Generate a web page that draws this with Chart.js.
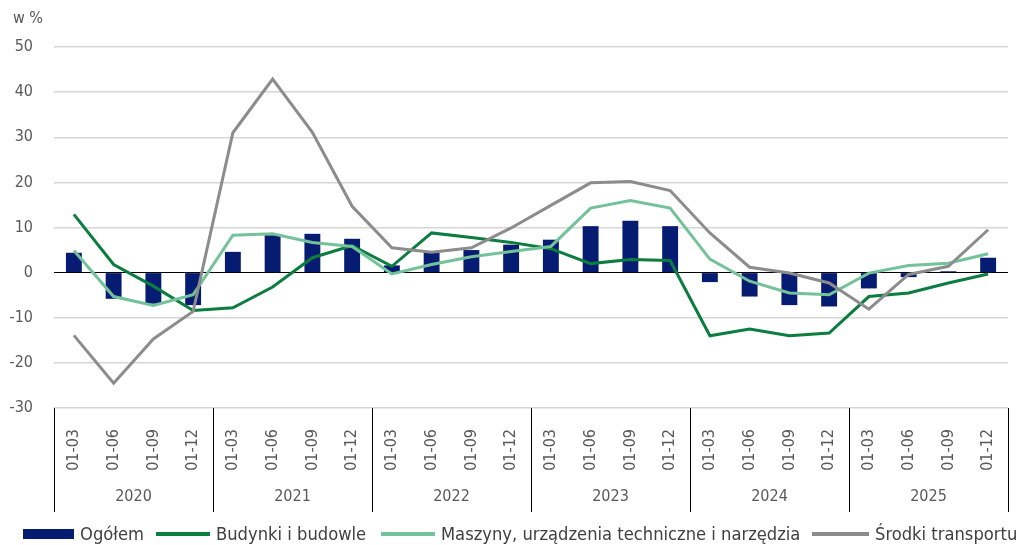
<!DOCTYPE html>
<html>
<head>
<meta charset="utf-8">
<script src="https://cdn.jsdelivr.net/npm/chart.js@4.4.1/dist/chart.umd.min.js"></script>
<style>
  body { margin: 0; background: #fff; }
  #wrap { position: relative; width: 1021px; height: 545px; }
  #unit { position: absolute; left: 13px; top: 8px; font: 16px 'DejaVu Sans Condensed', 'DejaVu Sans', sans-serif; color: #595959; }
  .leg { position: absolute; top: 523px; display: flex; align-items: center; font: 18.2px 'DejaVu Sans Condensed', 'DejaVu Sans', sans-serif; color: #404040; white-space: nowrap; line-height: 21px; }
  .leg i { display: inline-block; margin-right: 6px; }
</style>
</head>
<body>
<div id="wrap">
  <canvas id="myChart" width="1021" height="545"></canvas>
  <div id="unit">w %</div>
  <div class="leg" style="left:23px"><i style="width:51px;height:10px;background:#061c72"></i>Ogółem</div>
  <div class="leg" style="left:156px"><i style="width:54px;height:4px;background:#0b7d3e"></i>Budynki i budowle</div>
  <div class="leg" style="left:381px"><i style="width:54px;height:4px;background:#74c29a"></i>Maszyny, urządzenia techniczne i narzędzia</div>
  <div class="leg" style="left:812px"><i style="width:57px;height:4px;background:#8c8c8c"></i>Środki transportu</div>
</div>
<script>
// quarters and years
const periods = [
  '01-03', '01-06', '01-09', '01-12',
  '01-03', '01-06', '01-09', '01-12',
  '01-03', '01-06', '01-09', '01-12',
  '01-03', '01-06', '01-09', '01-12',
  '01-03', '01-06', '01-09', '01-12',
  '01-03', '01-06', '01-09', '01-12'
];
const years = ['2020', '2021', '2022', '2023', '2024', '2025'];

// series, w %
const ogolem = [4.4, -5.8, -6.9, -7.2, 4.6, 8.3, 8.6, 7.5, 1.6, 4.6, 5.0, 6.2,
  7.3, 10.3, 11.5, 10.3, -2.1, -5.3, -7.2, -7.5, -3.5, -1.0, 0.3, 3.3];
const budynki = [12.9, 1.8, -3.0, -8.4, -7.8, -3.2, 3.3, 6.0, 1.4, 8.8, 7.8, 6.7,
  5.3, 2.0, 2.9, 2.7, -14.0, -12.5, -14.0, -13.4, -5.3, -4.5, -2.3, -0.3];
const maszyny = [4.9, -5.3, -7.3, -4.9, 8.3, 8.6, 6.7, 5.8, -0.3, 1.8, 3.5, 4.7,
  5.8, 14.3, 16.0, 14.3, 3.0, -1.9, -4.5, -4.9, -0.1, 1.6, 2.1, 4.2];
const transport = [-13.9, -24.5, -14.7, -8.6, 31.0, 42.9, 31.1, 14.7, 5.5, 4.5, 5.5, 9.9,
  14.9, 19.9, 20.2, 18.2, 8.8, 1.2, -0.1, -2.3, -8.1, -0.4, 1.4, 9.5];

const tickFont = { family: "'DejaVu Sans Condensed', 'DejaVu Sans', sans-serif", size: 16 };
const tickColor = '#595959';

// year labels and separators under the quarter ticks
const yearAxis = {
  id: 'yearAxis',
  afterDraw(chart) {
    const ctx = chart.ctx;
    const x = chart.scales.x;
    const top = chart.chartArea.bottom;
    const step = x.getPixelForValue(1) - x.getPixelForValue(0);
    ctx.save();
    ctx.strokeStyle = '#000';
    ctx.lineWidth = 1;
    for (let g = 0; g <= years.length; g++) {
      const xp = Math.round(x.getPixelForValue(g * 4) - step / 2) + 0.5;
      ctx.beginPath();
      ctx.moveTo(xp, top);
      ctx.lineTo(xp, 512);
      ctx.stroke();
    }
    ctx.fillStyle = tickColor;
    ctx.font = "16px 'DejaVu Sans Condensed', 'DejaVu Sans', sans-serif";
    ctx.textAlign = 'center';
    ctx.textBaseline = 'middle';
    years.forEach(function (yr, g) {
      const cx = (x.getPixelForValue(g * 4) + x.getPixelForValue(g * 4 + 3)) / 2;
      ctx.fillText(yr, cx, 497);
    });
    ctx.restore();
  }
};

const data = {
  labels: periods,
  datasets: [
    {
      type: 'line',
      label: 'Środki transportu',
      data: transport,
      borderColor: '#8c8c8c',
      borderWidth: 3,
      pointRadius: 0,
      tension: 0,
      order: 1
    },
    {
      type: 'line',
      label: 'Maszyny, urządzenia techniczne i narzędzia',
      data: maszyny,
      borderColor: '#74c29a',
      borderWidth: 3,
      pointRadius: 0,
      tension: 0,
      order: 2
    },
    {
      type: 'line',
      label: 'Budynki i budowle',
      data: budynki,
      borderColor: '#0b7d3e',
      borderWidth: 3,
      pointRadius: 0,
      tension: 0,
      order: 3
    },
    {
      type: 'bar',
      label: 'Ogółem',
      data: ogolem,
      backgroundColor: '#061c72',
      barPercentage: 0.4,
      categoryPercentage: 1,
      order: 4
    }
  ]
};

const config = {
  data: data,
  options: {
    responsive: false,
    animation: false,
    layout: { padding: { top: 47, right: 13, left: 0, bottom: 0 } },
    plugins: {
      legend: { display: false },
      tooltip: { enabled: false }
    },
    scales: {
      x: {
        grid: { display: false },
        border: { display: false },
        ticks: {
          autoSkip: false,
          minRotation: 90,
          maxRotation: 90,
          padding: 13,
          color: tickColor,
          font: tickFont
        },
        afterFit: function (scale) { scale.height = 137; }
      },
      y: {
        min: -30,
        max: 50,
        border: { display: false },
        grid: {
          drawTicks: false,
          color: function (c) { return c.tick.value === 0 ? '#000' : '#d6d6d6'; },
          lineWidth: function (c) { return c.tick.value === 0 ? 1 : 1.5; }
        },
        ticks: {
          stepSize: 10,
          padding: 21,
          color: tickColor,
          font: tickFont
        },
        afterFit: function (scale) { scale.width = 54; }
      }
    }
  },
  plugins: [yearAxis]
};

var ctx = document.getElementById('myChart');
var myChart = new Chart(ctx, config);
</script>
</body>
</html>
